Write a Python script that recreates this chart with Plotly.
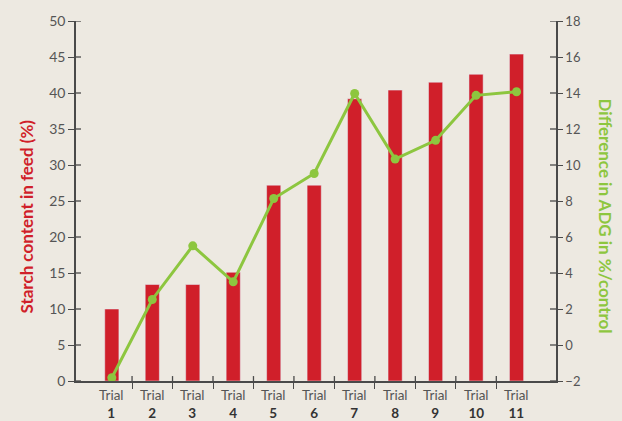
import plotly.graph_objects as go

trials = [1, 2, 3, 4, 5, 6, 7, 8, 9, 10, 11]
trial_words = ["Trial"] * len(trials)
trial_numbers = [str(t) for t in trials]
starch = [10, 13.4, 13.4, 15.1, 27.2, 27.2, 39.2, 40.4, 41.5, 42.6, 45.4]
adg_diff = [-1.82, 2.53, 5.51, 3.51, 8.14, 9.53, 13.97, 10.33, 11.37, 13.87, 14.07]
starch_ticks = list(range(0, 51, 5))
adg_ticks = list(range(-2, 19, 2))
boundaries = [t + 0.5 for t in trials[:-1]]

RED = "#D01F2A"
GREEN = "#8DC63F"
BG = "#EDE9E1"
AX = "#4a4a4a"
TXT = "#555555"
FONT = "Lato"

xr = [0.115, 11.975]
yr = [0, 50]
y2r = [-2, 18]
PW, PH = 480, 365

fig = go.Figure()
fig.add_trace(go.Bar(x=trials, y=starch, marker_color=RED, width=0.35,
                     xaxis="x", yaxis="y", showlegend=False))
fig.add_trace(go.Scatter(x=trials, y=adg_diff, mode="lines+markers",
                         line=dict(color=GREEN, width=3),
                         marker=dict(color=GREEN, size=9),
                         xaxis="x", yaxis="y2", showlegend=False))

common_tick = dict(tickcolor=AX, tickwidth=1.3)

shapes = []
for b in boundaries:
    shapes.append(dict(type="line", xref="x", yref="paper", x0=b, x1=b, y0=0, y1=5 / PH,
                       line=dict(color=AX, width=1.3), layer="above"))
for v in starch_ticks:
    shapes.append(dict(type="line", xref="paper", yref="y", x0=0, x1=5 / PW, y0=v, y1=v,
                       line=dict(color=AX, width=1.3), layer="above"))
for v in adg_ticks:
    shapes.append(dict(type="line", xref="paper", yref="y2", x0=1 - 6 / PW, x1=1, y0=v, y1=v,
                       line=dict(color=AX, width=1.3), layer="above"))

annotations = [
    dict(text="<b>Starch content in feed (%)</b>", xref="paper", yref="paper",
         x=-0.104, y=0.457, xanchor="center", yanchor="middle", textangle=-90,
         showarrow=False, font=dict(size=17, color=RED, family=FONT)),
    dict(text="<b>Difference in ADG in %/control</b>", xref="paper", yref="paper",
         x=1.104, y=0.457, xanchor="center", yanchor="middle", textangle=90,
         showarrow=False, font=dict(size=17, color=GREEN, family=FONT)),
]
for t, w, n in zip(trials, trial_words, trial_numbers):
    annotations.append(dict(
        text="%s<br><b><span style='color:#333333'>%s</span></b>" % (w, n),
        x=t, xref="x", y=0, yref="paper", yanchor="top", yshift=-5, borderpad=0,
        showarrow=False, font=dict(size=13.5, color=TXT, family=FONT)))

fig.update_layout(
    width=622, height=421,
    paper_bgcolor=BG, plot_bgcolor=BG,
    margin=dict(l=76, r=66, t=16, b=40),
    font=dict(family=FONT, size=13, color=TXT),
    xaxis=dict(range=xr, tickvals=boundaries, ticks="outside", ticklen=6,
               showticklabels=False,
               showline=True, linecolor=AX, linewidth=1.5, showgrid=False,
               zeroline=False, **common_tick),
    yaxis=dict(range=yr, tickvals=starch_ticks, ticks="outside", ticklen=6,
               showline=True, linecolor=AX, linewidth=1.5, showgrid=False,
               zeroline=False, tickfont=dict(size=14, color=TXT), **common_tick),
    yaxis2=dict(range=y2r, tickvals=adg_ticks, overlaying="y", side="right", anchor="x",
                ticks="outside", ticklen=5, showline=True, linecolor=AX, linewidth=1.5,
                showgrid=False, zeroline=False, tickfont=dict(size=13, color=TXT),
                **common_tick),
    shapes=shapes,
    annotations=annotations,
)

fig.write_html("out.html", config={"displayModeBar": False})
with open("out.html", encoding="utf-8") as f:
    html = f.read()
html = html.replace("<head>", "<head><style>html,body{margin:0;padding:0;overflow:hidden}</style>", 1)
with open("out.html", "w", encoding="utf-8") as f:
    f.write(html)
